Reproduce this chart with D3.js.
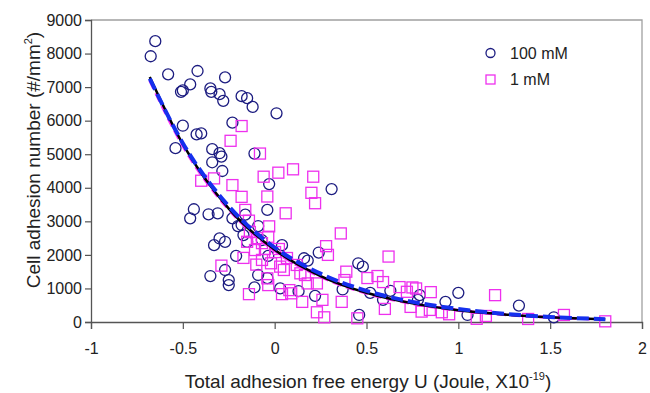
<!DOCTYPE html>
<html><head><meta charset="utf-8">
<script src="https://cdn.jsdelivr.net/npm/d3@7"></script>
<style>body{margin:0;background:#fff}svg{display:block}text{font-family:"Liberation Sans",Arial,sans-serif}</style>
</head><body><svg id="c" width="650" height="393"></svg>
<script>
const xTicks=[-1,-0.5,0,0.5,1,1.5,2];
const yTicks=[0,1000,2000,3000,4000,5000,6000,7000,8000,9000];
const seriesNames=["100 mM","1 mM"];
// 100 mM (circles): [U, adhesion number]
const circ100=[[-0.65,8370],[-0.675,7920],[-0.58,7380],[-0.42,7480],[-0.46,7080],[-0.50,6900],[-0.51,6860],[-0.27,7290],[-0.35,6960],[-0.345,6860],[-0.30,6790],[-0.28,6590],[-0.18,6730],[-0.15,6670],[-0.12,6410],[0.01,6220],[-0.50,5850],[-0.425,5590],[-0.40,5620],[-0.23,5940],[-0.54,5180],[-0.34,5150],[-0.30,5030],[-0.29,4930],[-0.34,4760],[-0.285,4500],[-0.11,5020],[-0.03,4110],[0.31,3960],[-0.44,3360],[-0.46,3090],[-0.36,3210],[-0.31,3240],[-0.04,3340],[-0.23,3090],[-0.18,2890],[-0.20,2860],[-0.09,2860],[-0.17,2590],[-0.15,2390],[-0.30,2490],[-0.27,2390],[-0.33,2290],[-0.21,1970],[-0.035,1970],[-0.35,1370],[-0.27,1550],[-0.25,1250],[-0.25,1100],[-0.09,1400],[-0.11,1030],[0.04,2290],[-0.04,1310],[0.24,2070],[0.16,1900],[0.18,1830],[0.455,1750],[0.48,1650],[0.03,1000],[0.13,920],[0.22,780],[0.37,970],[0.52,870],[0.59,660],[0.63,930],[0.46,210],[0.79,800],[0.78,660],[0.93,600],[1.0,870],[1.05,210],[1.33,490],[1.52,140],[-0.07,2440],[-0.16,3200]];
// 1 mM (squares)
const sq1=[[-0.18,5840],[-0.24,5400],[-0.08,5020],[-0.06,4330],[0.02,4450],[0.10,4550],[0.21,4330],[-0.33,4280],[-0.40,4210],[-0.23,4080],[-0.18,3730],[-0.04,3740],[0.20,3850],[0.22,3540],[0.06,3240],[-0.16,3340],[-0.14,3020],[-0.03,2850],[-0.035,2540],[0.36,2640],[0.28,2260],[0.29,2000],[0.62,1950],[-0.17,1910],[-0.29,1680],[-0.10,1710],[-0.15,2390],[0.39,1500],[0.38,1250],[0.505,1310],[0.56,1370],[0.59,1190],[0.68,1040],[-0.14,830],[-0.035,1100],[0.04,830],[0.08,950],[0.15,600],[0.18,1150],[0.23,1150],[0.26,660],[0.365,600],[0.60,390],[0.23,290],[0.27,140],[0.45,110],[-0.02,1750],[0.03,1650],[0.05,1550],[0.12,1700],[0.14,1450],[0.165,1400],[0.09,855],[-0.04,1300],[0.75,1030],[0.77,1000],[0.85,890],[1.20,800],[0.74,450],[0.80,310],[0.845,360],[0.91,290],[0.95,230],[1.10,95],[1.15,180],[1.38,90],[1.575,210],[1.80,20],[0.72,900],[-0.135,2680],[-0.097,2500],[-0.069,2350],[-0.053,2175],[0.002,2085],[0.023,2175],[0.067,1907],[-0.069,1850],[-0.107,2145]];
// fitted curves
const fitX=[-0.68,-0.5,-0.25,0,0.25,0.5,0.75,1.0,1.25,1.5,1.8];
const fitAll=[7300,5300,3380,2150,1370,870,555,350,225,142,80];
const fit100=[7250,5330,3450,2220,1440,930,600,390,245,150,85];
const fit1=[7200,5250,3350,2120,1350,855,545,345,220,140,78];

const svg=d3.select("#c");
const x=d3.scaleLinear().domain([-1,2]).range([91,642]);
const y=d3.scaleLinear().domain([0,9000]).range([322,20]);

// frame (top/right)
svg.append("path").attr("d",`M${x(-1)},${y(9000)}H${x(2)}V${y(0)}`).attr("fill","none").attr("stroke","#a0a0a0").attr("stroke-width",1.3);

const gx=svg.append("g").attr("transform",`translate(0,${y(0)})`).call(d3.axisBottom(x).tickValues(xTicks).tickSize(7).tickPadding(14).tickFormat(d=>String(d)));
const gy=svg.append("g").attr("transform",`translate(${x(-1)},0)`).call(d3.axisLeft(y).tickValues(yTicks).tickSize(6).tickPadding(3).tickFormat(d=>String(d)));
[gx,gy].forEach(g=>{g.select(".domain").attr("stroke","#555").attr("stroke-width",1.3);g.selectAll(".tick line").attr("stroke","#555").attr("stroke-width",1.2);g.selectAll("text").attr("font-size",16).attr("fill","#222").attr("font-family","Liberation Sans, Arial, sans-serif");});

// points
svg.append("g").selectAll("circle").data(circ100).join("circle").attr("cx",d=>x(d[0])).attr("cy",d=>y(d[1])).attr("r",5.5).attr("fill","none").attr("stroke","#1c1c80").attr("stroke-width",1.3);
svg.append("g").selectAll("rect").data(sq1).join("rect").attr("x",d=>x(d[0])-5.5).attr("y",d=>y(d[1])-5.5).attr("width",11).attr("height",11).attr("fill","none").attr("stroke","#ee30ee").attr("stroke-width",1.3);

// fit lines
const line=arr=>d3.line().x((d,i)=>x(fitX[i])).y(d=>y(d)).curve(d3.curveMonotoneX)(arr);
svg.append("path").attr("d",line(fit1)).attr("fill","none").attr("stroke","#ff30ff").attr("stroke-width",3).attr("stroke-dasharray","9,5");
svg.append("path").attr("d",line(fitAll)).attr("fill","none").attr("stroke","#000").attr("stroke-width",2.5);
svg.append("path").attr("d",line(fit100)).attr("fill","none").attr("stroke","#1530ee").attr("stroke-width",4).attr("stroke-dasharray","12,5");

// legend
const lg=svg.append("g");
lg.append("circle").attr("cx",490.5).attr("cy",53).attr("r",4.5).attr("fill","none").attr("stroke","#1c1c80").attr("stroke-width",1.3);
lg.append("rect").attr("x",486).attr("y",75).attr("width",9).attr("height",9).attr("fill","none").attr("stroke","#ee30ee").attr("stroke-width",1.3);
lg.append("text").attr("x",510).attr("y",59).attr("font-size",16).attr("fill","#222").text(seriesNames[0]);
lg.append("text").attr("x",510).attr("y",85).attr("font-size",16).attr("fill","#222").text(seriesNames[1]);

// axis titles
const yt=svg.append("text").attr("transform","translate(40,160) rotate(-90)").attr("text-anchor","middle").attr("font-size",19).attr("fill","#222");
yt.append("tspan").text("Cell adhesion number (#/mm");
yt.append("tspan").attr("font-size",11).attr("dy",-8).text("2");
yt.append("tspan").attr("dy",8).text(")");
const xt=svg.append("text").attr("x",368).attr("y",388).attr("text-anchor","middle").attr("font-size",19).attr("fill","#222");
xt.append("tspan").text("Total adhesion free energy U (Joule, X10");
xt.append("tspan").attr("font-size",11).attr("dy",-8).text("-19");
xt.append("tspan").attr("dy",8).text(")");
</script></body></html>
